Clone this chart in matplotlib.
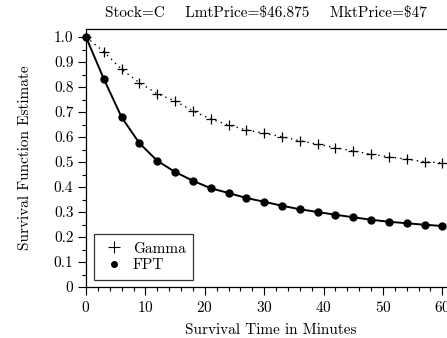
import matplotlib
matplotlib.use("Agg")
import matplotlib.pyplot as plt
from matplotlib.lines import Line2D
from matplotlib.ticker import MultipleLocator

plt.rcParams["font.family"] = "serif"
plt.rcParams["font.serif"] = ["cmr10", "DejaVu Serif"]
plt.rcParams["axes.formatter.use_mathtext"] = True
plt.rcParams["mathtext.fontset"] = "cm"

# survival time (minutes)
minutes = [0, 3, 6, 9, 12, 15, 18, 21, 24, 27, 30, 33, 36, 39, 42, 45, 48, 51, 54, 57, 60]

gamma = [1.0, 0.941, 0.871, 0.817, 0.773, 0.744, 0.704, 0.672, 0.648, 0.628, 0.615,
         0.601, 0.585, 0.571, 0.557, 0.544, 0.531, 0.521, 0.511, 0.501, 0.497]
fpt = [1.0, 0.832, 0.679, 0.575, 0.505, 0.460, 0.425, 0.395, 0.376, 0.356, 0.341,
       0.325, 0.311, 0.300, 0.289, 0.279, 0.269, 0.261, 0.255, 0.249, 0.244]

y_ticks = [0, 0.1, 0.2, 0.3, 0.4, 0.5, 0.6, 0.7, 0.8, 0.9, 1.0]
y_ticklabels = ["0", "0.1", "0.2", "0.3", "0.4", "0.5", "0.6", "0.7", "0.8", "0.9", "1.0"]

title = r"Stock=C    LmtPrice=\$46.875    MktPrice=\$47"

fig = plt.figure(figsize=(4.47, 3.38), dpi=100)
W, H = 447, 338
# axes runs past the right edge of the picture (cropped in the original)
ax = fig.add_axes([86 / W, (H - 287) / H, (456 - 86) / W, (287 - 29) / H])

ax.plot(minutes, gamma, color="black", linestyle=(0, (1, 3)), linewidth=1.0,
        marker="+", markersize=7, markeredgewidth=0.9, clip_on=False)
ax.plot(minutes, fpt, color="black", linestyle="-", linewidth=1.4,
        marker="o", markersize=5, clip_on=False)

ax.set_xlim(0, 62.3)
ax.set_ylim(0, 1.032)
ax.xaxis.set_major_locator(MultipleLocator(10))
ax.xaxis.set_minor_locator(MultipleLocator(2))
ax.yaxis.set_minor_locator(MultipleLocator(0.05))
ax.set_yticks(y_ticks)
ax.set_yticklabels(y_ticklabels)
ax.tick_params(which="major", direction="out", length=5.5, width=0.8, labelsize=11, pad=3.5)
ax.tick_params(which="minor", direction="out", length=3, width=0.8)
ax.spines["right"].set_visible(False)
for s in ["left", "bottom", "top"]:
    ax.spines[s].set_linewidth(0.9)

ax.set_xlabel("Survival Time in Minutes", fontsize=11, labelpad=6)
ax.set_ylabel("Survival Function Estimate", fontsize=11, labelpad=16)
fig.text(266 / W, 1 - 13 / H, title, ha="center", va="center", fontsize=11)

handles = [
    Line2D([], [], color="black", linestyle="none", marker="+", markersize=8, markeredgewidth=0.8),
    Line2D([], [], color="black", linestyle="none", marker="o", markersize=4),
]
leg = ax.legend(handles, ["Gamma", "FPT"], loc="lower left", bbox_to_anchor=(8 / 370, 7 / 258),
                fontsize=11, frameon=True, fancybox=False, edgecolor="black",
                handlelength=1.6, handletextpad=0.45, borderpad=0.5, labelspacing=0.2,
                borderaxespad=0)
leg.get_frame().set_linewidth(0.9)

fig.savefig("out.png", dpi=100)
